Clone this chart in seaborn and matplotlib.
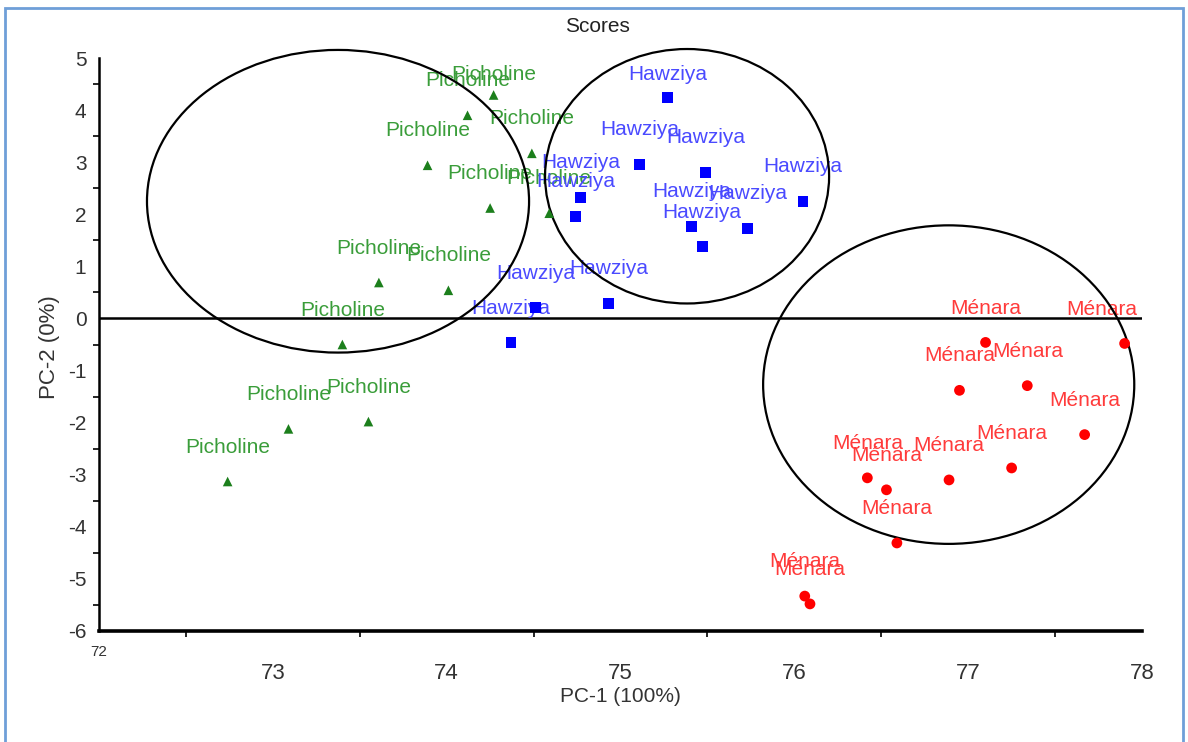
import matplotlib
matplotlib.use("Agg")
import matplotlib.pyplot as plt
import numpy as np
import pandas as pd
import seaborn as sns
from matplotlib.patches import Ellipse, Rectangle
from matplotlib.ticker import MultipleLocator

# ---------------- data ----------------
picholine_pc1 = [74.27, 74.12, 73.89, 74.49, 74.25, 74.59, 73.61, 74.01, 73.40, 73.09, 73.55, 72.74]
picholine_pc2 = [4.29, 3.90, 2.94, 3.17, 2.12, 2.02, 0.69, 0.54, -0.50, -2.12, -1.98, -3.13]

hawziya_pc1 = [75.27, 75.11, 75.49, 76.05, 74.77, 74.74, 75.41, 75.73, 75.47, 74.93, 74.51, 74.37]
hawziya_pc2 = [4.25, 2.96, 2.81, 2.25, 2.33, 1.96, 1.77, 1.73, 1.38, 0.29, 0.21, -0.46]

menara_pc1 = [77.10, 77.90, 76.95, 77.34, 77.67, 77.25, 76.89, 76.42, 76.53, 76.59, 76.06, 76.09]
menara_pc2 = [-0.46, -0.48, -1.38, -1.29, -2.23, -2.87, -3.10, -3.06, -3.29, -4.31, -5.33, -5.48]

cultivars = ["Picholine", "Hawziya", "Ménara"]
point_labels = {"Picholine": "Picholine", "Hawziya": "Hawziya", "Ménara": "Ménara"}

x_ticks = [72, 73, 74, 75, 76, 77, 78]
y_ticks = [-6, -5, -4, -3, -2, -1, 0, 1, 2, 3, 4, 5]

# group ellipses drawn on the chart: (centre PC-1, centre PC-2, width, height)
ellipse_cx = [73.375, 75.383, 76.888]
ellipse_cy = [2.25, 2.73, -1.27]
ellipse_w = [2.198, 1.634, 2.135]
ellipse_h = [5.81, 4.885, 6.115]

# ---------------- styling ----------------
marker_colors = {"Picholine": "#1c7f1c", "Hawziya": "#0000ff", "Ménara": "#ff0000"}
label_colors = {"Picholine": "#3a9d3a", "Hawziya": "#4a4aff", "Ménara": "#ff3b3b"}
marker_shapes = {"Picholine": "^", "Hawziya": "s", "Ménara": "o"}
marker_sizes = {"Picholine": 48, "Hawziya": 62, "Ménara": 60}

sns.set_theme(style="white")
plt.rcParams["font.family"] = ["Liberation Sans", "DejaVu Sans"]

df = pd.DataFrame({
    "PC1": picholine_pc1 + hawziya_pc1 + menara_pc1,
    "PC2": picholine_pc2 + hawziya_pc2 + menara_pc2,
    "cultivar": (["Picholine"] * len(picholine_pc1) + ["Hawziya"] * len(hawziya_pc1)
                 + ["Ménara"] * len(menara_pc1)),
})

W, H = 1188, 742
fig = plt.figure(figsize=(W / 100, H / 100), dpi=100)
ax = fig.add_axes([99 / W, 1 - 631 / H, (1142 - 99) / W, (631 - 58) / H])

sns.scatterplot(data=df, x="PC1", y="PC2", hue="cultivar", style="cultivar",
                size="cultivar", sizes=marker_sizes, palette=marker_colors,
                markers=marker_shapes, linewidth=0, legend=False, ax=ax, zorder=6)

# text labels above points (kept inside the plotting area)
x_lo, x_hi = 72, 78
y_hi = 5
for _, row in df.iterrows():
    lx = min(row.PC1, x_hi - 0.23)
    ly = min(row.PC2 + 0.66, y_hi - 0.32)
    ax.text(lx, ly, point_labels[row.cultivar], color=label_colors[row.cultivar],
            fontsize=15, ha="center", va="center", zorder=4)

for cx, cy, w, h in zip(ellipse_cx, ellipse_cy, ellipse_w, ellipse_h):
    ax.add_patch(Ellipse((cx, cy), w, h, fill=False, ec="black", lw=1.6,
                         clip_on=False, zorder=5))

ax.axhline(0, color="black", lw=1.8, zorder=2)

ax.set_xlim(x_lo, x_hi)
ax.set_ylim(min(y_ticks), max(y_ticks))
ax.set_xticks(x_ticks, labels=[""] + [str(t) for t in x_ticks[1:]])
ax.set_yticks(y_ticks, labels=[str(t) for t in y_ticks])
ax.xaxis.set_minor_locator(MultipleLocator(0.5))
ax.yaxis.set_minor_locator(MultipleLocator(0.5))

for side in ["top", "right"]:
    ax.spines[side].set_visible(False)
ax.spines["left"].set_color("black")
ax.spines["left"].set_linewidth(1.8)
ax.spines["bottom"].set_color("black")
ax.spines["bottom"].set_linewidth(2.6)

ax.tick_params(axis="both", which="major", direction="out", length=5, width=1.5,
               color="black", labelcolor="#333333")
ax.tick_params(axis="both", which="minor", direction="out", length=4, width=1.2,
               color="black", bottom=True, left=True)
ax.tick_params(axis="x", which="major", labelsize=16, pad=18)
ax.tick_params(axis="y", which="major", labelsize=15, pad=4)

# first x tick label is drawn smaller and higher in the reference
ax.text(x_ticks[0], -0.036, str(x_ticks[0]), transform=ax.get_xaxis_transform(),
        ha="center", va="center", fontsize=11, color="#333333")

ax.set_xlabel("PC-1 (100%)", fontsize=15, color="#333333")
ax.set_ylabel("PC-2 (0%)", fontsize=16, color="#333333")
ax.xaxis.set_label_coords(0.5, (631 - 697) / 573)
ax.xaxis.label.set_va("center")
ax.yaxis.set_label_coords((50 - 99) / 1043, 0.495)
ax.yaxis.label.set_va("center")

fig.text(597 / W, 1 - 27 / H, "Scores", ha="center", va="center", fontsize=15,
         color="#222222")

fig.patches.append(Rectangle((5 / W, -0.05), (1183 - 5) / W, 1.05 - 8 / H,
                             transform=fig.transFigure, fill=False,
                             ec="#6f9fd8", lw=2))

fig.savefig("out.png", dpi=100)
